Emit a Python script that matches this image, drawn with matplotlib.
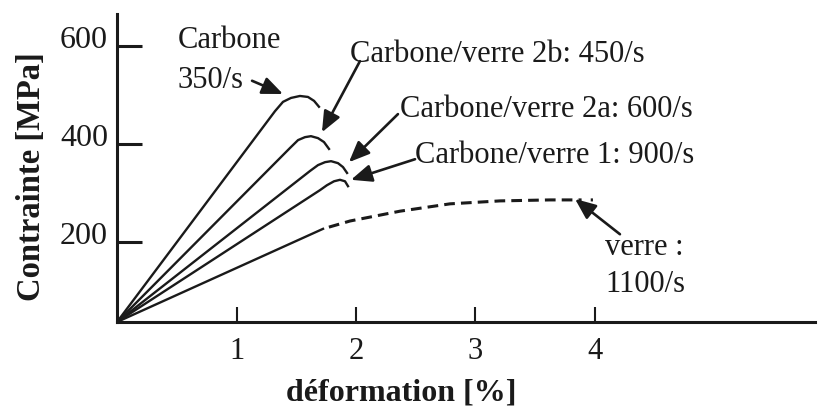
import matplotlib
matplotlib.use("Agg")
import matplotlib.pyplot as plt
import matplotlib.transforms as mtransforms

plt.rcParams['font.family'] = ['Liberation Serif', 'DejaVu Serif']

INK = '#1a1a1a'
Y0 = 37  # stress level where the strain axis is drawn

# strain [%] / stress [MPa] curves
carbone_x = [0, 1.322, 1.389, 1.456, 1.531, 1.598, 1.649, 1.690]
carbone_y = [Y0, 467, 486, 494, 498, 496, 488, 476]

cv2b_x = [0, 1.448, 1.515, 1.573, 1.623, 1.682, 1.732, 1.774]
cv2b_y = [Y0, 392, 408, 414, 416, 412, 404, 390]

cv2a_x = [0, 1.615, 1.682, 1.741, 1.791, 1.849, 1.891, 1.925]
cv2a_y = [Y0, 345, 357, 363, 365, 361, 353, 341]

cv1_x = [0, 1.699, 1.757, 1.816, 1.866, 1.908, 1.933]
cv1_y = [Y0, 306, 316, 324, 327, 324, 314]

# glass: measured part then extrapolated (dashed) part
verre_x = [0, 1.724, 1.950, 2.368, 2.787, 3.205, 3.623, 3.983]
verre_y = [Y0, 227, 243, 263, 278, 284, 286, 286]
n_solid = 2

xticks = [1, 2, 3, 4]
yticks = [200, 400, 600]

fig = plt.figure(figsize=(8.19, 4.10), dpi=100)
ax = fig.add_axes([0.1429, 0.2122, 0.852, 0.751])

for x, y in [(carbone_x, carbone_y), (cv2b_x, cv2b_y),
             (cv2a_x, cv2a_y), (cv1_x, cv1_y)]:
    ax.plot(x, y, color=INK, lw=1.7, solid_joinstyle='round')

ax.plot(verre_x[:n_solid], verre_y[:n_solid], color=INK, lw=1.7)
ax.plot(verre_x[n_solid - 1:], verre_y[n_solid - 1:], color=INK, lw=2.2,
        linestyle=(2, (1, 3, 3.5, 2, 3.5, 2, 3.5, 2, 3.5, 2, 3.5, 2,
                       3.5, 2, 3.5, 2, 3.5, 2, 3.5, 2, 3.5, 2, 3.5, 2,
                       3.5, 2, 3.5, 2, 3.5, 2, 3.5, 2, 3.5, 2, 3.5, 2)))

ax.set_xlim(0, 5.84)
ax.set_ylim(Y0, 665)

for side in ['top', 'right']:
    ax.spines[side].set_visible(False)
for side in ['left', 'bottom']:
    ax.spines[side].set_linewidth(2.2)
    ax.spines[side].set_color(INK)

ax.set_xticks(xticks)
ax.set_xticklabels([str(t) for t in xticks])
ax.set_yticks(yticks)
ax.set_yticklabels([str(t) for t in yticks])
ax.tick_params(axis='x', direction='in', length=11, width=1.5, pad=10,
               labelsize=22, colors=INK)
ax.tick_params(axis='y', direction='in', length=18, width=2.2, pad=6.5,
               labelsize=23, colors=INK)

# lift the stress labels a little above their tick marks
shift = mtransforms.ScaledTranslation(0, 7 / 72, fig.dpi_scale_trans)
for lab in ax.get_yticklabels():
    lab.set_transform(lab.get_transform() + shift)

ax.set_xlabel('déformation [%]', fontsize=23, fontweight='bold', color=INK)
ax.xaxis.set_label_coords(0.407, -0.227)
ax.xaxis.label.set_va('center')
ax.set_ylabel('Contrainte [MPa]', fontsize=23.5, fontweight='bold', color=INK)
ax.yaxis.set_label_coords(-0.122, 0.474)
ax.yaxis.label.set_va('center')

txt = dict(fontsize=22, color=INK, va='baseline', ha='left')
ax.text(0.510, 598, 'Carbone', **txt)
ax.text(0.510, 516, '350/s', **txt)
ax.text(1.950, 569, 'Carbone/verre 2b: 450/s', **txt)
ax.text(2.368, 457, 'Carbone/verre 2a: 600/s', **txt)
ax.text(2.494, 363, 'Carbone/verre 1: 900/s', **txt)
ax.text(4.084, 176, 'verre :', **txt)
ax.text(4.084, 100, '1100/s', **txt)

arrow = dict(arrowstyle='-|>,head_length=0.9,head_width=0.38', color=INK,
             lw=1.9, shrinkA=0, shrinkB=0, mutation_scale=14)
arrows = [((1.130, 529), (1.389, 502)),
          ((2.033, 569), (1.715, 424)),
          ((2.351, 461), (1.941, 363)),
          ((2.494, 369), (1.958, 327)),
          ((4.209, 216), (3.833, 288))]
for tail, tip in arrows:
    ax.annotate('', xy=tip, xytext=tail, arrowprops=arrow)

fig.savefig('out.png', dpi=100)
